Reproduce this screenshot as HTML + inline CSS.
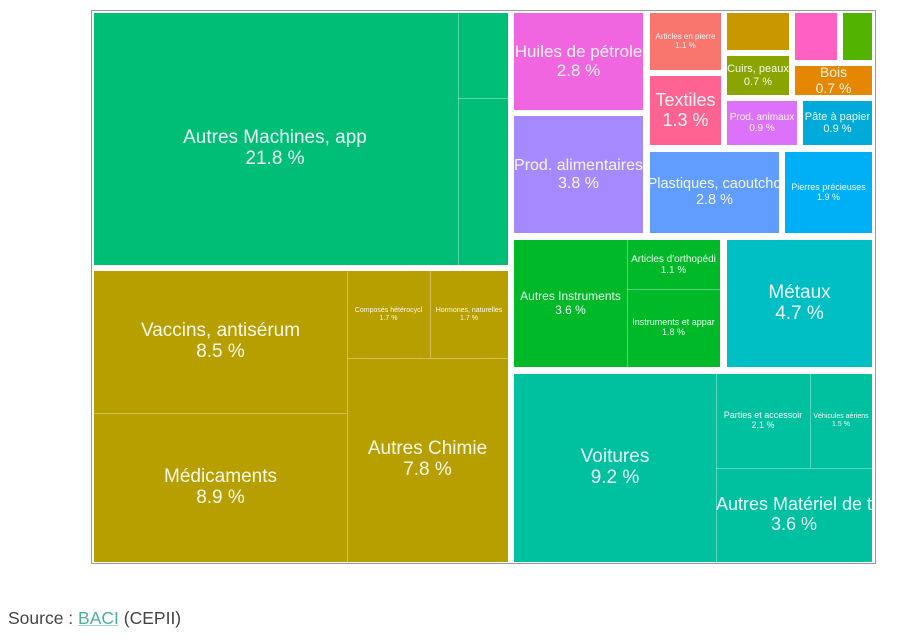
<!DOCTYPE html>
<html><head><meta charset="utf-8"><style>
body{margin:0;width:910px;height:642px;background:#fff;position:relative;overflow:hidden;font-family:"Liberation Sans",sans-serif}
.f{position:absolute;left:91px;top:10px;width:785px;height:554px;border:1px solid #999;box-sizing:border-box}
.r{position:absolute;display:flex;flex-direction:column;align-items:center;justify-content:center;text-align:center;color:rgba(255,255,255,0.92);line-height:1.1;white-space:nowrap;overflow:hidden;box-sizing:border-box}
.l{position:absolute;background:rgba(255,255,255,0.35)}
.s{position:absolute;left:8px;top:608px;font-size:17.5px;color:#444}
.s u{color:#4fae9c;text-decoration-color:#9fd6c9}
</style></head><body>
<div class="f"></div>
<div class="r" style="left:94px;top:13px;width:414px;height:252px;background:#00BE76"></div>
<div class="r" style="left:94px;top:23px;width:362px;height:252px;font-size:19px">Autres Machines, app<br>21.8 %</div>
<div class="l" style="left:458px;top:13px;width:1px;height:252px"></div>
<div class="l" style="left:458px;top:98px;width:50px;height:1px"></div>

<div class="r" style="left:94px;top:271px;width:414px;height:291px;background:#B89F00"></div>
<div class="r" style="left:94px;top:271px;width:253px;height:142px;font-size:19px">Vaccins, antisérum<br>8.5 %</div>
<div class="r" style="left:94px;top:413px;width:253px;height:149px;font-size:19px">Médicaments<br>8.9 %</div>
<div class="r" style="left:347px;top:271px;width:83px;height:87px;font-size:7px">Composés hétérocycl<br>1.7 %</div>
<div class="r" style="left:430px;top:271px;width:78px;height:87px;font-size:7px">Hormones, naturelles<br>1.7 %</div>
<div class="r" style="left:347px;top:358px;width:161px;height:204px;font-size:19px">Autres Chimie<br>7.8 %</div>
<div class="l" style="left:347px;top:271px;width:1px;height:291px"></div>
<div class="l" style="left:94px;top:413px;width:253px;height:1px"></div>
<div class="l" style="left:347px;top:358px;width:161px;height:1px"></div>
<div class="l" style="left:430px;top:271px;width:1px;height:87px"></div>

<div class="r" style="left:514px;top:13px;width:129px;height:97px;background:#F066E0;font-size:17px">Huiles de pétrole<br>2.8 %</div>
<div class="r" style="left:514px;top:116px;width:129px;height:117px;background:#A58AFF;font-size:16px">Prod. alimentaires<br>3.8 %</div>
<div class="r" style="left:650px;top:13px;width:71px;height:57px;background:#F8766D;font-size:8px">Articles en pierre<br>1.1 %</div>
<div class="r" style="left:650px;top:76px;width:71px;height:69px;background:#FF6392;font-size:18px">Textiles<br>1.3 %</div>
<div class="r" style="left:727px;top:13px;width:62px;height:37px;background:#C99800"></div>
<div class="r" style="left:795px;top:13px;width:42px;height:47px;background:#FF61C3"></div>
<div class="r" style="left:843px;top:13px;width:29px;height:47px;background:#53B400"></div>
<div class="r" style="left:727px;top:56px;width:62px;height:39px;background:#8AA400;font-size:11px">Cuirs, peaux<br>0.7 %</div>
<div class="r" style="left:795px;top:66px;width:77px;height:29px;background:#E58700;font-size:14px">Bois<br>0.7 %</div>
<div class="r" style="left:727px;top:101px;width:70px;height:44px;background:#DC71FA;font-size:10px">Prod. animaux<br>0.9 %</div>
<div class="r" style="left:803px;top:101px;width:69px;height:44px;background:#00ABDA;font-size:11px">Pâte à papier<br>0.9 %</div>
<div class="r" style="left:650px;top:152px;width:129px;height:81px;background:#619CFF;font-size:14.5px">Plastiques, caoutcho<br>2.8 %</div>
<div class="r" style="left:785px;top:152px;width:87px;height:81px;background:#00B0F6;font-size:9px">Pierres précieuses<br>1.9 %</div>

<div class="r" style="left:514px;top:240px;width:113px;height:127px;background:#00B929;font-size:12px">Autres Instruments<br>3.6 %</div>
<div class="r" style="left:627px;top:240px;width:93px;height:49px;background:#00B929;font-size:10px">Articles d'orthopédi<br>1.1 %</div>
<div class="r" style="left:627px;top:289px;width:93px;height:78px;background:#00B929;font-size:9px">Instruments et appar<br>1.8 %</div>
<div class="l" style="left:627px;top:240px;width:1px;height:127px"></div>
<div class="l" style="left:627px;top:289px;width:93px;height:1px"></div>
<div class="r" style="left:727px;top:240px;width:145px;height:127px;background:#00BFC4;font-size:19px">Métaux<br>4.7 %</div>

<div class="r" style="left:514px;top:374px;width:202px;height:188px;background:#00C19F;font-size:19px">Voitures<br>9.2 %</div>
<div class="r" style="left:716px;top:374px;width:94px;height:94px;background:#00C19F;font-size:9px">Parties et accessoir<br>2.1 %</div>
<div class="r" style="left:810px;top:374px;width:62px;height:94px;background:#00C19F;font-size:7px">Véhicules aériens<br>1.5 %</div>
<div class="r" style="left:716px;top:468px;width:156px;height:94px;background:#00C19F;font-size:18px">Autres Matériel de t<br>3.6 %</div>
<div class="l" style="left:716px;top:374px;width:1px;height:188px"></div>
<div class="l" style="left:716px;top:468px;width:156px;height:1px"></div>
<div class="l" style="left:810px;top:374px;width:1px;height:94px"></div>

<div class="s">Source : <u>BACI</u> (CEPII)</div>
</body></html>
